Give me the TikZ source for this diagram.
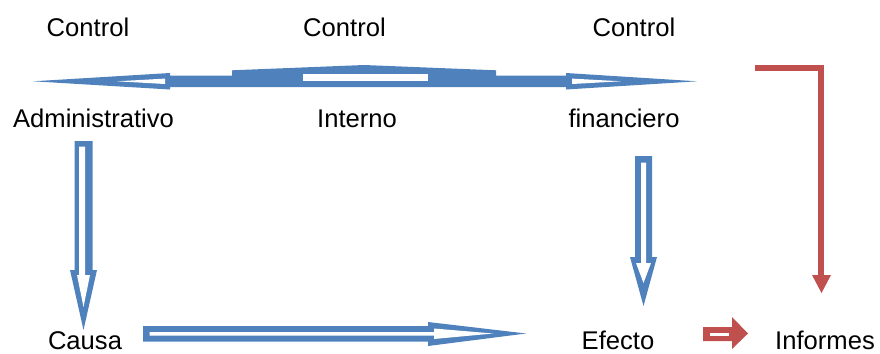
\documentclass[tikz,border=0pt]{standalone}
\usepackage{fontspec}
\setmainfont{Liberation Sans}
\definecolor{blockblue}{HTML}{4F81BD}
\definecolor{blockred}{HTML}{C0504D}
\begin{document}
\begin{tikzpicture}[x=0.75pt,y=-0.75pt,
  lbl/.style={anchor=base,inner sep=0pt,font=\fontsize{19.2}{23}\selectfont},
  bluefill/.style={fill=blockblue,draw=none},
  hollow/.style={fill=white,draw=none},
  redline/.style={draw=blockred,line width=4.2pt,line cap=butt,line join=miter}]
\useasboundingbox (0,0) rectangle (880,353);

% labels
\node[lbl] (c1) at (88,37) {Control};
\node[lbl] (c2) at (344.5,37) {Control};
\node[lbl] (c3) at (634,37) {Control};
\node[lbl] (adm) at (93.5,127) {Administrativo};
\node[lbl] (int) at (357,127) {Interno};
\node[lbl] (fin) at (624,127) {financiero};
\node[lbl] (causa) at (85,349) {Causa};
\node[lbl] (efecto) at (618,349) {Efecto};
\node[lbl] (inf) at (825,349) {Informes};

% top: left-right arrow with flattened middle point
\fill[bluefill] (33,81.3) -- (170,73) -- (170,75.7) -- (232,75.7) -- (232,70.3)
  -- (364,65) -- (496,70.3) -- (496,75.7) -- (566,75.7) -- (566,73)
  -- (697,81.3) -- (566,89.5) -- (566,87) -- (170,87) -- (170,89.5) -- cycle;
\fill[hollow] (117,81.3) -- (165,78.6) -- (165,84) -- cycle;
\fill[hollow] (572,78.6) -- (621,81.3) -- (572,84) -- cycle;
\fill[hollow] (303,74) rectangle (428,80.7);

% left down arrow
\fill[bluefill] (74.5,141) -- (92.5,141) -- (92.5,270) -- (97,270) -- (83.5,330)
  -- (70,270) -- (74.5,270) -- cycle;
\fill[hollow] (79,146.5) -- (85,146.5) -- (85,275) -- (90,275) -- (83.5,307)
  -- (77,275) -- (79,275) -- cycle;

% right down arrow
\fill[bluefill] (635,156) -- (652,156) -- (652,257) -- (657,257) -- (643.5,306)
  -- (630,257) -- (635,257) -- cycle;
\fill[hollow] (641,162.5) -- (646,162.5) -- (646,263) -- (651,263) -- (643.5,283)
  -- (636,263) -- (641,263) -- cycle;

% bottom right arrow
\fill[bluefill] (143,326) -- (428,326) -- (428,322) -- (526,333.5) -- (428,346)
  -- (428,341.7) -- (143,341.7) -- cycle;
\fill[hollow] (149.5,332) -- (434,332) -- (434,328.5) -- (493,333.5) -- (434,339)
  -- (434,335.5) -- (149.5,335.5) -- cycle;

% small red arrow
\fill[blockred] (703,327) -- (732,327) -- (732,317) -- (748,333.5) -- (732,349)
  -- (732,341) -- (703,341) -- cycle;
\fill[white] (710,332.5) rectangle (729,335.5);

% red elbow arrow
\coordinate (r0) at (755,68.2);
\coordinate (r1) at (821,68.2);
\coordinate (r2) at (821,276);
\draw[redline] (r0) -- (r1) -- (r2);
\fill[blockred] (812,275) -- (831,275) -- (821.5,293) -- cycle;
\end{tikzpicture}
\end{document}
